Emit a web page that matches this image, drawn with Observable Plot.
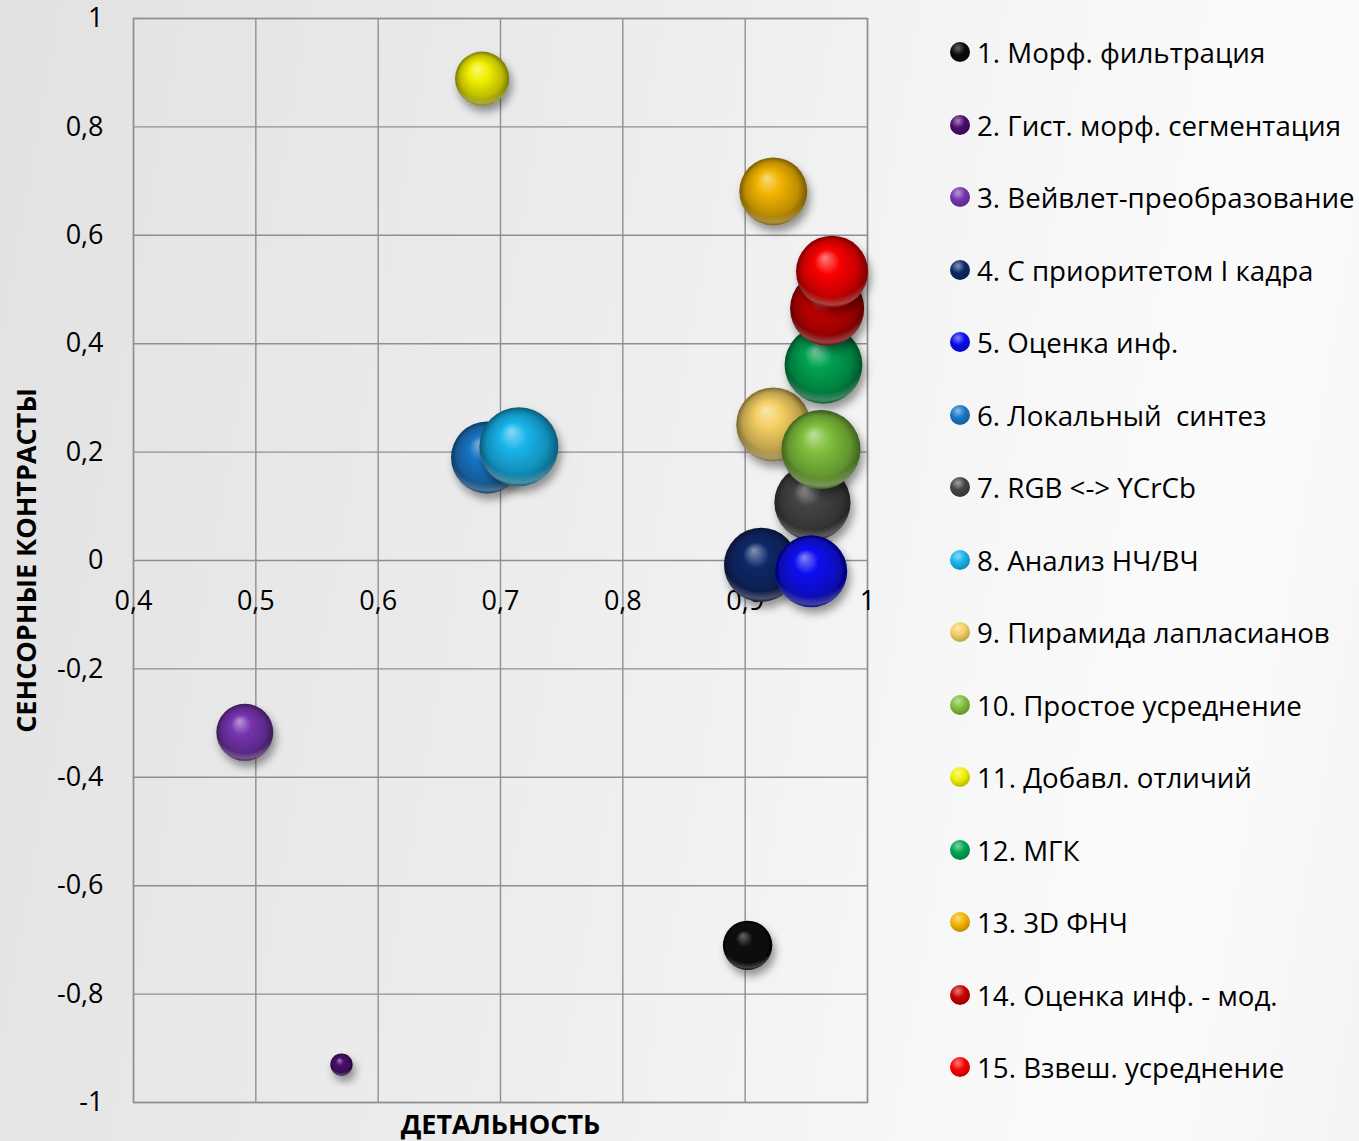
<!DOCTYPE html>
<html><head><meta charset="utf-8">
<script src="https://cdn.jsdelivr.net/npm/d3@7"></script>
<script src="https://cdn.jsdelivr.net/npm/@observablehq/plot@0.6"></script>
<style>
body{margin:0;}
#wrap{position:relative;width:1359px;height:1141px;overflow:hidden;
  background:linear-gradient(100deg,#e2e2e2 0%,#ececec 40%,#f7f7f7 70%,#fbfbfb 85%,#f4f4f4 100%);
  font-family:"Open Sans",sans-serif;}
#chart{position:absolute;left:0;top:0;}
#legend{position:absolute;left:950px;top:0;}
.item{position:absolute;left:0;display:flex;align-items:center;white-space:nowrap;font-size:27.7px;color:#000;height:40px;line-height:40px;}
.sw{width:20px;height:20px;border-radius:50%;margin-right:7px;flex:none;}
</style>
</head><body>
<div id="wrap"><div id="chart"></div><div id="legend"></div></div>
<script>
// ---- data ----
const names = [
  "1. Морф. фильтрация",
  "2. Гист. морф. сегментация",
  "3. Вейвлет-преобразование",
  "4. С приоритетом I кадра",
  "5. Оценка инф.",
  "6. Локальный  синтез",
  "7. RGB <-> YCrCb",
  "8. Анализ НЧ/ВЧ",
  "9. Пирамида лапласианов",
  "10. Простое усреднение",
  "11. Добавл. отличий",
  "12. МГК",
  "13. 3D ФНЧ",
  "14. Оценка инф. - мод.",
  "15. Взвеш. усреднение"
];
const detail   = [0.902, 0.570, 0.491, 0.913, 0.954, 0.689, 0.955, 0.715, 0.923, 0.962, 0.685, 0.964, 0.923, 0.967, 0.971];
const contrast = [-0.710, -0.930, -0.317, -0.008, -0.020, 0.190, 0.107, 0.210, 0.251, 0.205, 0.889, 0.361, 0.681, 0.465, 0.533];
const bubble   = [39, 8, 52, 88, 83, 83, 93, 100, 88, 100, 47, 97, 74, 88, 83];
const colors   = ["#0a0a0a", "#4a0a6e", "#7634b0", "#0c2868", "#0a0af0", "#1a76c6", "#444444", "#16b4ea",
                  "#f4cf62", "#7fbf3c", "#f2f000", "#00a352", "#f2b400", "#c40000", "#fa0000"];
const xTicks = [0.4, 0.5, 0.6, 0.7, 0.8, 0.9, 1];
const yTicks = [-1, -0.8, -0.6, -0.4, -0.2, 0, 0.2, 0.4, 0.6, 0.8, 1];

// ---- build ----
const table = names.map((n, i) => ({id: i + 1, name: n, x: detail[i], y: contrast[i], size: bubble[i]}));
// bubble 5 is drawn above bubble 7 in the original
const depth = d => d.id === 5 ? 7.5 : d.id;
const drawn = [...table].sort((a, b) => depth(a) - depth(b));

const loc = d3.formatLocale({decimal: ",", thousands: " ", grouping: [3], currency: ["", ""], minus: "-"});
const fmt = d => loc.format("~g")(d);

const light = c => d3.interpolateRgb(c, "#ffffff")(c === "#0a0a0a" ? 0.38 : 0.5);
const dark = (c, k) => d3.interpolateRgb(c, "#000000")(k);

const plot = Plot.plot({
  width: 930, height: 1141,
  marginLeft: 133, marginRight: 63, marginTop: 18, marginBottom: 39,
  style: {fontFamily: "'Open Sans', sans-serif", background: "transparent", color: "#000", overflow: "visible"},
  x: {domain: [0.4, 1], axis: null},
  y: {domain: [-1, 1], axis: null},
  r: {type: "sqrt", domain: [0, 100], range: [0, 39.5]},
  color: {domain: names, range: names.map((_, i) => `url(#sph${i})`)},
  marks: [
    Plot.gridX(xTicks, {stroke: "#8f8f8f", strokeOpacity: 1, strokeWidth: 1.4}),
    Plot.gridY(yTicks, {stroke: "#8f8f8f", strokeOpacity: 1, strokeWidth: 1.4}),
    Plot.frame({stroke: "#8f8f8f", strokeWidth: 1.4}),
    Plot.axisY(yTicks, {tickSize: 0, tickPadding: 30, tickFormat: fmt, fontSize: 27, label: null}),
    Plot.text(xTicks, {x: d => d, y: () => 0, dy: 41, text: fmt, fontSize: 27}),
    Plot.text(["СЕНСОРНЫЕ КОНТРАСТЫ"], {frameAnchor: "left", textAnchor: "middle", dx: -106, rotate: -90, fontWeight: "bold", fontSize: 27}),
    Plot.text(["ДЕТАЛЬНОСТЬ"], {frameAnchor: "bottom", lineAnchor: "middle", dy: 23, fontWeight: "bold", fontSize: 27}),
    Plot.dot(drawn, {x: "x", y: "y", r: "size", fill: "name", stroke: null, sort: null, className: "spheres"})
  ]
});

// gradients + shadow
const ns = "http://www.w3.org/2000/svg";
const defs = document.createElementNS(ns, "defs");
let html = `<filter id="shadow" x="-50%" y="-50%" width="200%" height="200%">
  <feDropShadow dx="3" dy="6" stdDeviation="4" flood-color="#000" flood-opacity="0.4"/></filter>
  <radialGradient id="rim" cx="50%" cy="30%" r="80%" fx="50%" fy="30%">
    <stop offset="0%" stop-color="#fff" stop-opacity="0"/>
    <stop offset="70%" stop-color="#fff" stop-opacity="0"/>
    <stop offset="82%" stop-color="#fff" stop-opacity="0.26"/>
    <stop offset="87.5%" stop-color="#fff" stop-opacity="0.04"/>
    <stop offset="100%" stop-color="#fff" stop-opacity="0"/>
  </radialGradient>`;
colors.forEach((c, i) => {
  html += `<radialGradient id="sph${i}" cx="50%" cy="50%" r="50%" fx="40%" fy="30%">
    <stop offset="0%" stop-color="${light(c)}"/>
    <stop offset="35%" stop-color="${c}"/>
    <stop offset="78%" stop-color="${dark(c, 0.22)}"/>
    <stop offset="100%" stop-color="${dark(c, 0.5)}"/>
  </radialGradient>`;
});
defs.innerHTML = html;
plot.insertBefore(defs, plot.firstChild);
plot.querySelectorAll("g.spheres circle").forEach(c => {
  c.setAttribute("filter", "url(#shadow)");
  const o = c.cloneNode(false);
  o.setAttribute("fill", "url(#rim)");
  o.removeAttribute("filter");
  c.after(o);
});
document.getElementById("chart").appendChild(plot);

// legend
const lg = document.getElementById("legend");
names.forEach((n, i) => {
  const c = colors[i];
  const it = document.createElement("div");
  it.className = "item";
  it.style.top = (52 + i * 72.5 - 20) + "px";
  it.innerHTML = `<span class="sw" style="background:radial-gradient(circle at 40% 30%, ${light(c)} 0%, ${c} 38%, ${dark(c, 0.25)} 80%, ${dark(c, 0.5)} 100%)"></span><span>${n.replace(/  /g, "&nbsp; ")}</span>`;
  lg.appendChild(it);
});
</script>
</body></html>
